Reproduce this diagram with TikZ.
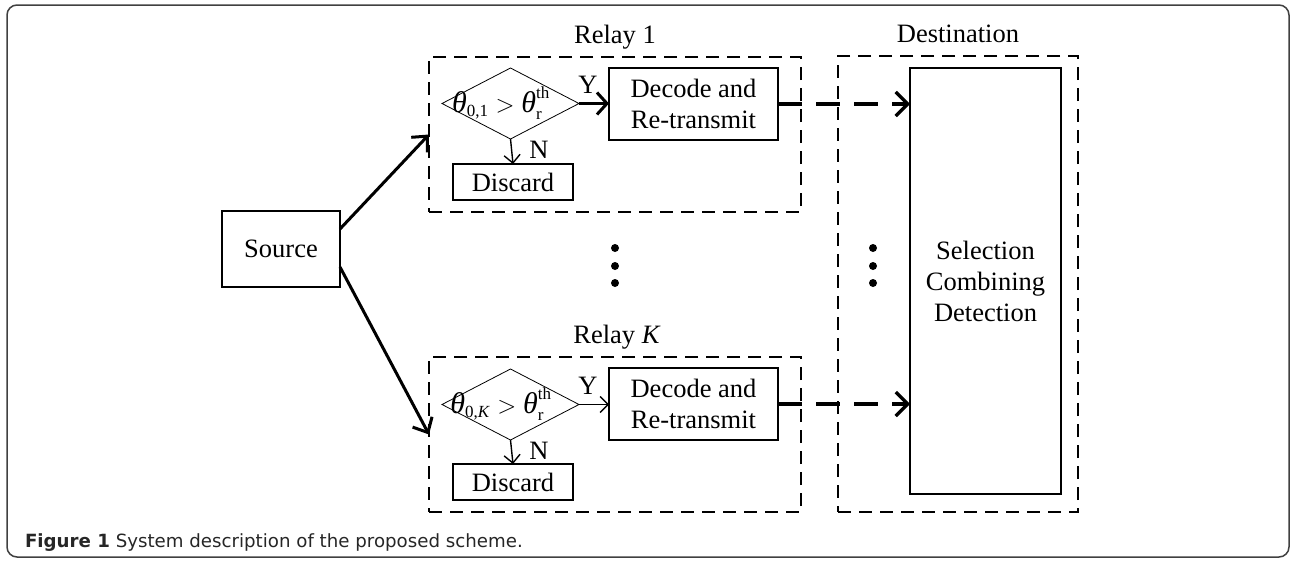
\documentclass[tikz,border=0pt]{standalone}
\usepackage{amsmath}
\usepackage{fontspec}
\setmainfont{Liberation Serif}
\newfontfamily\capfont{DejaVu Sans}
\DeclareMathSizes{30}{30}{17}{12}
\usetikzlibrary{shapes.geometric,arrows.meta}
\begin{document}
\begin{tikzpicture}[x=1pt,y=-1pt,
  every node/.style={font=\fontsize{26.5}{31}\selectfont, inner sep=0pt, outer sep=0pt},
  solidbox/.style={draw, line width=1.4pt, align=center},
  groupbox/.style={draw, line width=1.4pt, dash pattern=on 13pt off 8pt},
  testbox/.style={draw, diamond, line width=0.8pt, minimum width=137pt, minimum height=71pt},
  condtext/.style={font=\fontsize{30}{30}\selectfont},
  bigarrow/.style={line width=3pt, -{Straight Barb[length=12pt,width=22pt]}},
  yarrow/.style={line width=3pt, -{Straight Barb[length=10pt,width=22pt]}},
  thinarrow/.style={line width=1.4pt, -{Straight Barb[length=8pt,width=16pt]}},
  linkarrow/.style={line width=3.2pt, dash pattern=on 24pt off 14pt, -{Straight Barb[length=12pt,width=24pt]}},
  dot/.style={circle, fill=black, minimum size=8pt}
]
\useasboundingbox (0,0) rectangle (1291,560);
\draw[rounded corners=10pt, line width=1.5pt, black!75] (7,5) rectangle (1289,557);

% groups
\node[groupbox, minimum width=372pt, minimum height=155pt] (r1) at (615,134.5) {};
\node[groupbox, minimum width=372pt, minimum height=155pt] (rK) at (615,434.5) {};
\node[groupbox, minimum width=240pt, minimum height=456pt] (dst) at (958,284) {};
\node (r1lab) at (615,37) {Relay 1};
\node (rKlab) at (617,337) {Relay \textit{K}};
\node (dstlab) at (958,34) {Destination};

% source
\node[solidbox, minimum width=118pt, minimum height=76pt] (src) at (281,249) {Source};

% relay 1
\node[testbox] (d1) at (510.5,103.5) {};
\node[condtext] (d1t) at (501,103) {$\textit{θ}_{\text{0,1}}>\textit{θ}_{\text{r}}^{\text{th}}$};
\node[solidbox, minimum width=169pt, minimum height=72pt] (dec1) at (693.5,104) {Decode and\\Re-transmit};
\node[solidbox, minimum width=120pt, minimum height=36pt] (dis1) at (513,182) {Discard};
\node (y1) at (588,85) {Y};
\node (n1) at (539,150) {N};

% relay K
\node[testbox] (dK) at (510.5,404.5) {};
\node[condtext] (dKt) at (501,404) {$\textit{θ}_{\text{0,\textit{K}}}>\textit{θ}_{\text{r}}^{\text{th}}$};
\node[solidbox, minimum width=169pt, minimum height=72pt] (decK) at (693.5,404) {Decode and\\Re-transmit};
\node[solidbox, minimum width=120pt, minimum height=36pt] (disK) at (513,482) {Discard};
\node (yK) at (588,386) {Y};
\node (nK) at (539,451) {N};

% destination
\node[solidbox, minimum width=151pt, minimum height=426pt] (sel) at (985.5,281) {Selection\\Combining\\Detection};

% dots
\node[dot] (a1) at (615,248) {};
\node[dot] (a2) at (615,266) {};
\node[dot] (a3) at (615,283) {};
\node[dot] (b1) at (873,248) {};
\node[dot] (b2) at (873,266) {};
\node[dot] (b3) at (873,283) {};

% connectors
\draw[bigarrow] ([yshift=20pt]src.east) -- (r1.west);
\draw[bigarrow] ([yshift=-18pt]src.east) -- (rK.west);
\draw[yarrow] (d1.east) -- (d1.east -| dec1.west);
\draw[thinarrow] (dK.east) -- (dK.east -| decK.west);
\draw[thinarrow] (d1.south) -- (dis1.north);
\draw[thinarrow] (dK.south) -- (disK.north);
\draw[linkarrow] (dec1.east) -- (dec1.east -| sel.west);
\draw[linkarrow] (decK.east) -- (decK.east -| sel.west);

% caption
\node[anchor=base west, font=\capfont\fontsize{18.2}{21}\selectfont, text=black!85] (cap) at (25,547) {\textbf{Figure 1} System description of the proposed scheme.};
\end{tikzpicture}
\end{document}
